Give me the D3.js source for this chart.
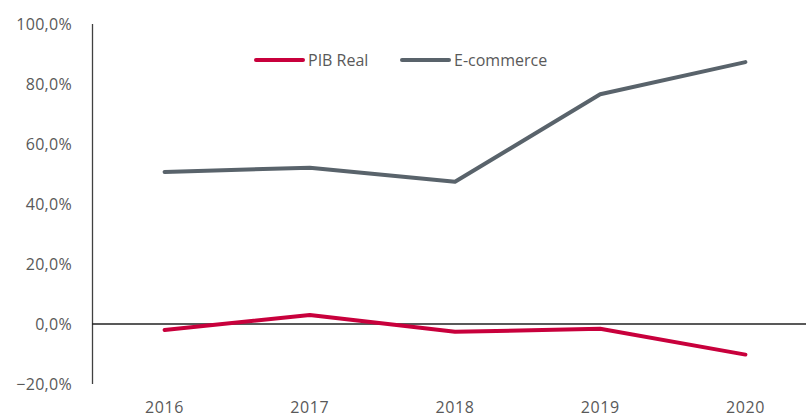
<!DOCTYPE html>
<html>
<head>
<meta charset="utf-8">
<script src="https://cdn.jsdelivr.net/npm/d3@7"></script>
<style>
  body { margin: 0; background: #fff; }
  text { font-family: "Open Sans", "Noto Sans", sans-serif; fill: #595959; }
</style>
</head>
<body>
<div id="chart"></div>
<script>
// data
var years = ['2016', '2017', '2018', '2019', '2020'];
var pibReal = [-2.0, 3.0, -2.6, -1.6, -10.2];
var ecommerce = [50.7, 52.1, 47.4, 76.6, 87.3];
var yTicks = [-20, 0, 20, 40, 60, 80, 100];
var seriesNames = ['PIB Real', 'E-commerce'];

var width = 806, height = 418;
var red = '#c8003c', gray = '#59636b';

var svg = d3.select('#chart').append('svg')
    .attr('width', width)
    .attr('height', height);

var x = d3.scalePoint()
    .domain(years)
    .range([92, 818])
    .padding(0.5);

var y = d3.scaleLinear()
    .domain([-20, 100])
    .range([384, 24]);

var fmt = function(d) { return d3.format('.1f')(d).replace('.', ',') + '%'; };

// y axis labels
svg.append('g').selectAll('text')
    .data(yTicks)
    .enter()
    .append('text')
    .attr('x', 72)
    .attr('y', function(d) { return y(d); })
    .attr('dy', '0.35em')
    .attr('text-anchor', 'end')
    .style('font-size', '16px')
    .style('letter-spacing', '0.3px')
    .text(fmt);

// vertical axis line
svg.append('line')
    .attr('x1', 92.5).attr('x2', 92.5)
    .attr('y1', y(100)).attr('y2', y(-20))
    .style('stroke', '#404040')
    .style('stroke-width', 1.3);

// zero line
svg.append('line')
    .attr('x1', 92).attr('x2', width)
    .attr('y1', y(0)).attr('y2', y(0))
    .style('stroke', '#222')
    .style('stroke-width', 1.3);

// x labels (they sit right on the bottom edge, as in the original)
svg.append('g').selectAll('text')
    .data(years)
    .enter()
    .append('text')
    .attr('x', function(d) { return x(d); })
    .attr('y', 413)
    .attr('text-anchor', 'middle')
    .style('font-size', '16px')
    .style('letter-spacing', '0.6px')
    .text(function(d) { return d; });

var line = d3.line()
    .x(function(d, i) { return x(years[i]); })
    .y(function(d) { return y(d); });

svg.append('path')
    .datum(ecommerce)
    .attr('d', line)
    .style('fill', 'none')
    .style('stroke', gray)
    .style('stroke-width', 4)
    .style('stroke-linecap', 'round')
    .style('stroke-linejoin', 'round');

svg.append('path')
    .datum(pibReal)
    .attr('d', line)
    .style('fill', 'none')
    .style('stroke', red)
    .style('stroke-width', 4)
    .style('stroke-linecap', 'round')
    .style('stroke-linejoin', 'round');

// legend
var legendX = [256, 402];
var legendColors = [red, gray];
var legend = svg.append('g').selectAll('g')
    .data(seriesNames)
    .enter()
    .append('g');

legend.append('line')
    .attr('x1', function(d, i) { return legendX[i]; })
    .attr('x2', function(d, i) { return legendX[i] + 47; })
    .attr('y1', 60).attr('y2', 60)
    .style('stroke', function(d, i) { return legendColors[i]; })
    .style('stroke-width', 4)
    .style('stroke-linecap', 'round');

legend.append('text')
    .attr('x', function(d, i) { return legendX[i] + 52; })
    .attr('y', 60)
    .attr('dy', '0.35em')
    .style('font-size', '16px')
    .text(function(d) { return d; });
</script>
</body>
</html>
